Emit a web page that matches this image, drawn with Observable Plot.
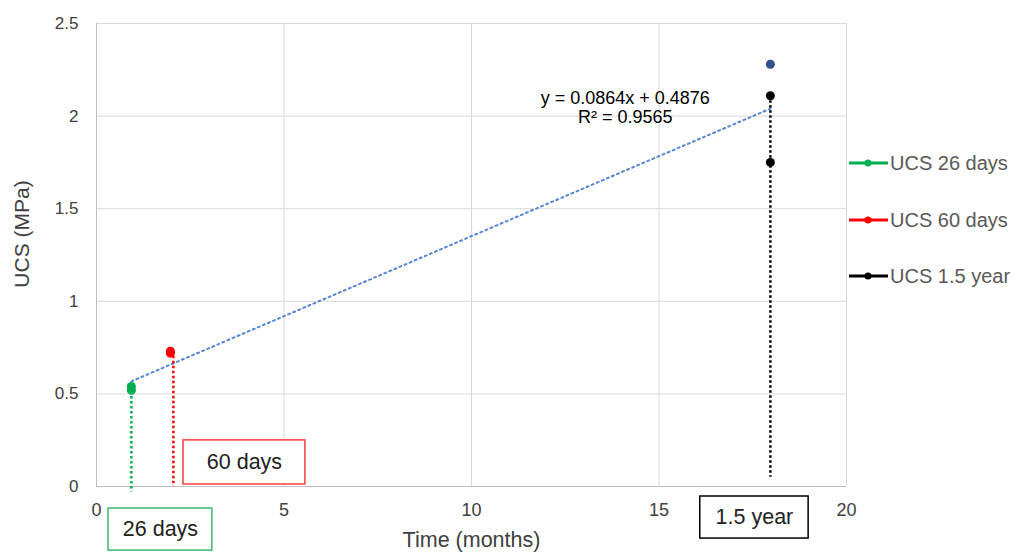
<!DOCTYPE html>
<html><head><meta charset="utf-8">
<script src="https://cdn.jsdelivr.net/npm/d3@7"></script>
<script src="https://cdn.jsdelivr.net/npm/@observablehq/plot@0.6"></script>
<style>
body{margin:0;background:#fff;font-family:"Liberation Sans",Arial,sans-serif;}
#wrap{position:relative;width:1015px;height:554px;overflow:hidden;}
#legend{position:absolute;left:849px;top:0;}
.li{position:absolute;left:0;display:flex;align-items:center;white-space:nowrap;font-size:20px;color:#595959;}
.li span{margin-left:1px;}
</style></head>
<body><div id="wrap"><div id="chart"></div><div id="legend"></div></div>
<script>
// ---- data ----
const xTicks = [0, 5, 10, 15, 20];
const yTicks = [0, 0.5, 1, 1.5, 2, 2.5];
const seriesNames = ["UCS 26 days", "UCS 60 days", "UCS 1.5 year"];
const seriesColors = ["#00b050", "#ff0000", "#000000"];
const seriesX = [0.93, 1.97, 17.97];          // months
const ucs26 = [0.52, 0.54];
const ucs60 = [0.72, 0.73];
const ucs15 = [2.11, 1.75];
const ucsExtraX = [17.97];
const ucsExtra = [2.28];                       // dark-blue point
const trendSlope = 0.0864, trendIntercept = 0.4876, trendR2 = 0.9565;
const trendRange = [0.93, 17.97];
const dropX = [0.93, 2.05, 17.97];             // dotted drop-line positions
const dropBottoms = [-0.03, 0, 0.05];          // where dotted drop lines end
const boxLabels = ["26 days", "60 days", "1.5 year"];
const boxX1 = [0.32, 2.32, 16.1], boxX2 = [3.09, 5.57, 18.99];
const boxY1 = [-0.346, 0.011, -0.281], boxY2 = [-0.119, 0.249, -0.054];
const boxStroke = ["#3cb96b", "#ff3b3b", "#000000"];

// ---- derived tables ----
const seriesVals = [ucs26, ucs60, ucs15];
const points = seriesVals.flatMap((vals, i) => vals.map(v => ({x: seriesX[i], y: v, c: seriesColors[i]})));
points.push(...ucsExtra.map((v, i) => ({x: ucsExtraX[i], y: v, c: "#2f4f8f"})));
const drops = seriesVals.map((vals, i) => ({x: dropX[i], y1: d3.max(vals), y2: dropBottoms[i], c: seriesColors[i]}));
const trend = trendRange.map(x => ({x, y: trendSlope * x + trendIntercept}));
const boxes = boxLabels.map((t, i) => ({t, x1: boxX1[i], x2: boxX2[i], y1: boxY1[i], y2: boxY2[i], s: boxStroke[i]}));

const chart = Plot.plot({
  width: 1015, height: 554,
  marginLeft: 96, marginRight: 169, marginTop: 23, marginBottom: 68,
  style: {fontFamily: "Liberation Sans, Arial, sans-serif", background: "#fff", overflow: "visible"},
  x: {domain: [0, 20]},
  y: {domain: [0, 2.5]},
  marks: [
    Plot.ruleY(yTicks, {stroke: "#d9d9d9", strokeWidth: 1}),
    Plot.ruleX(xTicks, {stroke: "#d9d9d9", strokeWidth: 1}),
    Plot.ruleX([0], {stroke: "#bfbfbf", strokeWidth: 1}),
    Plot.ruleY([0], {stroke: "#bfbfbf", strokeWidth: 1}),
    Plot.axisY({ticks: yTicks, tickSize: 0, tickPadding: 18, fontSize: 17, color: "#404040", label: null, tickFormat: d => String(d)}),
    Plot.axisX({ticks: xTicks, tickSize: 0, tickPadding: 17, fontSize: 18, color: "#404040", label: null}),
    Plot.line(trend, {x: "x", y: "y", stroke: "#5585d4", strokeWidth: 2, strokeDasharray: "2,3.5"}),
    Plot.ruleX(drops, {x: "x", y1: "y1", y2: "y2", stroke: "c", strokeWidth: 2.5, strokeDasharray: "2.5,2.5"}),
    Plot.dot(points, {x: "x", y: "y", fill: "c", r: 4.5, stroke: null}),
    Plot.text([`y = ${trendSlope}x + ${trendIntercept}`], {x: 14.1, y: 2.097, text: d => d, fontSize: 18, fill: "#000"}),
    Plot.text([`R² = ${trendR2}`], {x: 14.1, y: 1.995, text: d => d, fontSize: 18, fill: "#000"}),
    Plot.rect(boxes, {x1: "x1", x2: "x2", y1: "y1", y2: "y2", fill: "#fff", stroke: "s", strokeWidth: 1.5}),
    Plot.text(boxes, {x: d => (d.x1 + d.x2) / 2, y: d => (d.y1 + d.y2) / 2, text: "t", fontSize: 21.5, fill: "#222"}),
    Plot.text(["UCS (MPa)"], {frameAnchor: "left", dx: -74, dy: -21, rotate: -90, textAnchor: "middle", text: d => d, fontSize: 21, fill: "#404040"}),
    Plot.text(["Time (months)"], {frameAnchor: "bottom", dy: 60, text: d => d, fontSize: 21.5, fill: "#404040"})
  ]
});
document.getElementById("chart").append(chart);

const leg = document.getElementById("legend");
const legTops = [163, 220, 276];
seriesNames.forEach((n, i) => {
  const d = document.createElement("div");
  d.className = "li";
  d.style.top = (legTops[i] - 12) + "px";
  d.innerHTML = `<svg width="40" height="24"><line x1="0" x2="39" y1="12" y2="12" stroke="${seriesColors[i]}" stroke-width="3"/><circle cx="19" cy="12" r="3.5" fill="${seriesColors[i]}"/></svg><span>${n}</span>`;
  leg.append(d);
});
</script></body></html>
